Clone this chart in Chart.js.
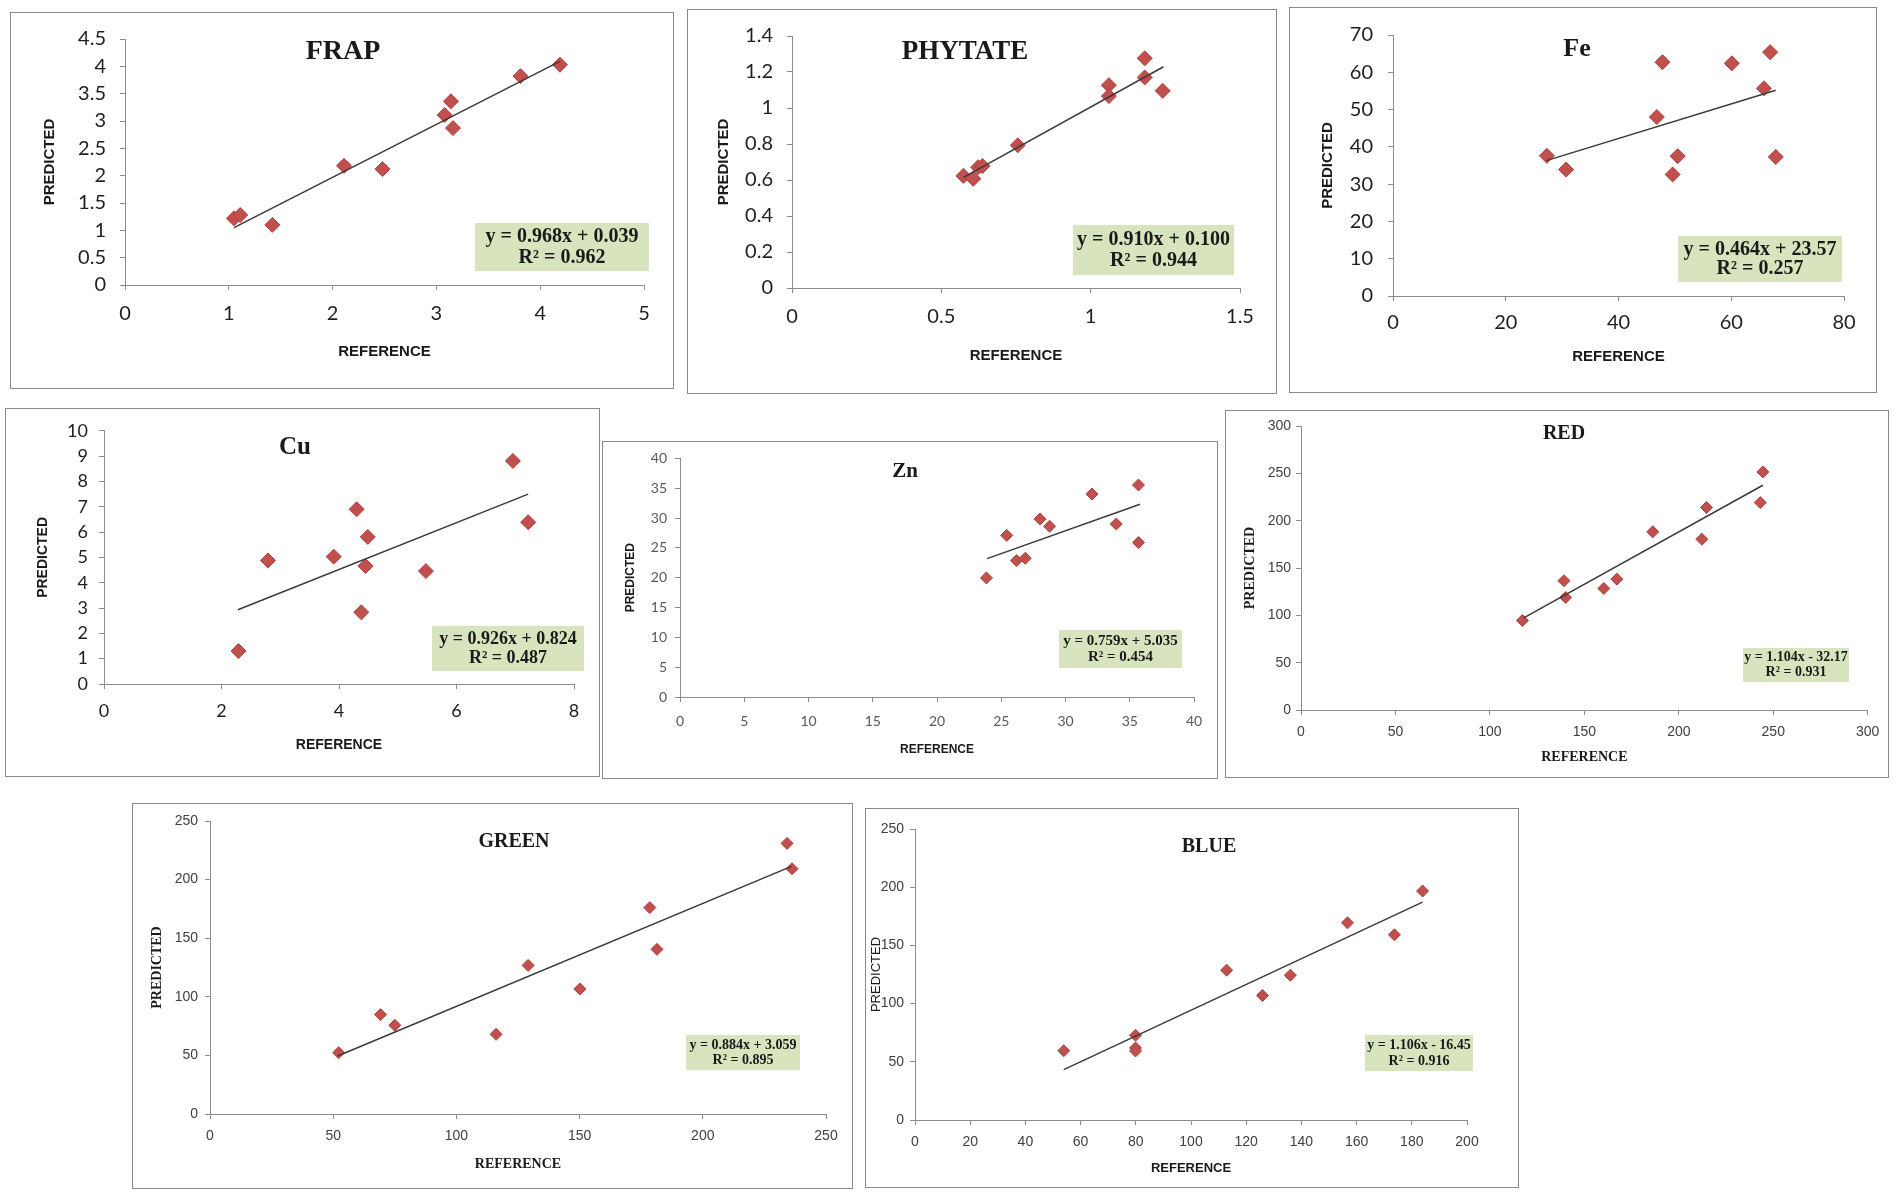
<!DOCTYPE html>
<html>
<head>
<meta charset="utf-8">
<script src="https://cdn.jsdelivr.net/npm/chart.js@4.4.1/dist/chart.umd.min.js"></script>
<style>
html, body { margin: 0; padding: 0; background: #fff; }
body { width: 1902px; height: 1199px; position: relative; overflow: hidden; }
canvas { position: absolute; outline: 1px solid #8a8a8a; }
</style>
</head>
<body>
<script>
// valeurs : REFERENCE (x) et PREDICTED (y)
const frapRef = [1.05, 1.11, 1.42, 2.11, 2.48, 3.08, 3.14, 3.16, 3.81, 4.19];
const frapPred = [1.22, 1.28, 1.10, 2.18, 2.12, 3.11, 3.36, 2.87, 3.82, 4.03];
const frapTrendRef = [1.05, 4.19];
const frapTrendPred = [1.05, 4.09];
const frapEq = ['y = 0.968x + 0.039', 'R² = 0.962'];

const phytateRef = [0.574, 0.607, 0.623, 0.638, 0.756, 1.061, 1.061, 1.181, 1.181, 1.241];
const phytatePred = [0.623, 0.607, 0.671, 0.678, 0.793, 1.127, 1.066, 1.276, 1.170, 1.096];
const phytateTrendRef = [0.574, 1.244];
const phytateTrendPred = [0.615, 1.229];
const phytateEq = ['y = 0.910x + 0.100', 'R² = 0.944'];

const feRef = [27.3, 30.7, 46.8, 47.8, 49.6, 50.5, 60.1, 65.8, 66.9, 67.9];
const fePred = [37.6, 33.9, 48.0, 62.7, 32.6, 37.5, 62.4, 55.7, 65.4, 37.3];
const feTrendRef = [27.2, 67.9];
const feTrendPred = [36.3, 55.2];
const feEq = ['y = 0.464x + 23.57', 'R² = 0.257'];

const cuRef = [2.29, 2.79, 3.91, 4.30, 4.49, 4.45, 4.38, 5.48, 6.96, 7.22];
const cuPred = [1.30, 4.88, 5.03, 6.90, 5.81, 4.66, 2.83, 4.46, 8.81, 6.39];
const cuTrendRef = [2.28, 7.22];
const cuTrendPred = [2.93, 7.50];
const cuEq = ['y = 0.926x + 0.824', 'R² = 0.487'];

const znRef = [23.85, 25.42, 26.19, 26.87, 28.02, 28.76, 32.06, 33.95, 35.68, 35.68];
const znPred = [19.97, 27.11, 22.87, 23.26, 29.85, 28.62, 34.03, 29.01, 35.54, 25.89];
const znTrendRef = [23.9, 35.8];
const znTrendPred = [23.2, 32.3];
const znEq = ['y = 0.759x + 5.035', 'R² = 0.454'];

const redRef = [117.2, 139.2, 140.1, 160.3, 167.2, 186.2, 212.2, 214.7, 243.1, 244.5];
const redPred = [94.6, 136.5, 118.9, 128.4, 138.2, 188.2, 180.4, 213.9, 219.1, 251.5];
const redTrendRef = [117.9, 244.5];
const redTrendPred = [97.4, 237.4];
const redEq = ['y = 1.104x - 32.17', 'R² = 0.931'];

const greenRef = [52.2, 69.2, 75.0, 116.1, 129.1, 150.1, 178.5, 181.4, 234.2, 236.2];
const greenPred = [52.3, 84.8, 75.7, 68.0, 126.8, 106.7, 176.1, 140.5, 230.9, 209.3];
const greenTrendRef = [51.8, 236.0];
const greenTrendPred = [49.5, 211.3];
const greenEq = ['y = 0.884x + 3.059', 'R² = 0.895'];

const blueRef = [53.9, 79.9, 79.9, 79.9, 112.9, 125.9, 136.0, 156.7, 173.7, 183.9];
const bluePred = [59.6, 72.8, 61.9, 59.3, 128.7, 106.9, 124.4, 169.4, 159.1, 196.7];
const blueTrendRef = [53.9, 183.9];
const blueTrendPred = [43.3, 187.2];
const blueEq = ['y = 1.106x - 16.45', 'R² = 0.916'];

// mise en page de chaque panneau (coordonnées de la page)
const SERIF = '"Liberation Serif", "Times New Roman", serif';
const SANS = '"Liberation Sans", Arial, sans-serif';
const NARROW = '"Liberation Sans Narrow", "Liberation Sans", sans-serif';
const LATO = 'Lato, "Liberation Sans", sans-serif';

const panneaux = [
    { titre: 'FRAP', ref: frapRef, pred: frapPred, tRef: frapTrendRef, tPred: frapTrendPred, eq: frapEq,
      cadre: [11, 13, 673, 388], zone: [125, 33, 644, 285], x: [0, 5, 1], y: [0, 4.5, 0.5],
      titrePos: [343, 52, 28], eqBox: [475, 223, 649, 271, 20], tick: [LATO, 20, '#1f1f1f', 14, 314],
      axe: [SANS, 15, 'bold', SANS, 15, 'bold'], yTitreX: 50, xTitreY: 352, r: 7.5 },
    { titre: 'PHYTATE', ref: phytateRef, pred: phytatePred, tRef: phytateTrendRef, tPred: phytateTrendPred, eq: phytateEq,
      cadre: [688, 10, 1276, 393], zone: [792, 30, 1240, 288], x: [0, 1.5, 0.5], y: [0, 1.4, 0.2],
      titrePos: [965, 52, 27], eqBox: [1073, 225, 1234, 275, 20], tick: [LATO, 20, '#1f1f1f', 14, 317],
      axe: [SANS, 15, 'bold', SANS, 15, 'bold'], yTitreX: 724, xTitreY: 356, r: 7.5 },
    { titre: 'Fe', ref: feRef, pred: fePred, tRef: feTrendRef, tPred: feTrendPred, eq: feEq,
      cadre: [1290, 8, 1876, 392], zone: [1393, 26, 1844, 296], x: [0, 80, 20], y: [0, 70, 10],
      titrePos: [1577, 49, 26], eqBox: [1678, 236, 1842, 282, 20], tick: [LATO, 20, '#1f1f1f', 15, 323],
      axe: [SANS, 15, 'bold', SANS, 15, 'bold'], yTitreX: 1328, xTitreY: 357, r: 7.5 },
    { titre: 'Cu', ref: cuRef, pred: cuPred, tRef: cuTrendRef, tPred: cuTrendPred, eq: cuEq,
      cadre: [6, 409, 599, 776], zone: [104, 427, 574, 684], x: [0, 8, 2], y: [0, 10, 1],
      titrePos: [295, 448, 25], eqBox: [432, 626, 584, 671, 18], tick: [LATO, 18, '#1f1f1f', 11, 711],
      axe: [SANS, 14, 'bold', SANS, 14, 'bold'], yTitreX: 43, xTitreY: 745, r: 7.5 },
    { titre: 'Zn', ref: znRef, pred: znPred, tRef: znTrendRef, tPred: znTrendPred, eq: znEq,
      cadre: [603, 442, 1217, 778], zone: [680, 458, 1194, 697], x: [0, 40, 5], y: [0, 40, 5],
      titrePos: [905, 472, 21], eqBox: [1059, 630, 1182, 668, 15], tick: [LATO, 14, '#595959', 8, 721],
      axe: [SANS, 12, 'bold', SANS, 12, 'bold'], yTitreX: 631, xTitreY: 750, r: 6 },
    { titre: 'RED', ref: redRef, pred: redPred, tRef: redTrendRef, tPred: redTrendPred, eq: redEq,
      cadre: [1226, 411, 1888, 777], zone: [1301, 426, 1871, 710], x: [0, 300, 50], y: [0, 300, 50],
      titrePos: [1564, 434, 20], eqBox: [1743, 648, 1849, 682, 14], tick: [NARROW, 14, '#404040', 5, 732],
      axe: [SERIF, 14, 'bold', SERIF, 14, 'bold'], yTitreX: 1250, xTitreY: 757, r: 6 },
    { titre: 'GREEN', ref: greenRef, pred: greenPred, tRef: greenTrendRef, tPred: greenTrendPred, eq: greenEq,
      cadre: [133, 804, 852, 1188], zone: [210, 821, 826, 1114], x: [0, 250, 50], y: [0, 250, 50],
      titrePos: [514, 842, 20], eqBox: [686, 1035, 800, 1070, 14], tick: [NARROW, 14, '#404040', 7, 1136],
      axe: [SERIF, 14, 'bold', SERIF, 14, 'bold'], yTitreX: 157, xTitreY: 1164, r: 6 },
    { titre: 'BLUE', ref: blueRef, pred: bluePred, tRef: blueTrendRef, tPred: blueTrendPred, eq: blueEq,
      cadre: [866, 809, 1518, 1187], zone: [915, 829, 1467, 1120], x: [0, 200, 20], y: [0, 250, 50],
      titrePos: [1209, 847, 20], eqBox: [1365, 1035, 1473, 1071, 14], tick: [NARROW, 14, '#404040', 6, 1142],
      axe: [NARROW, 13, 'bold', NARROW, 13, 'normal'], yTitreX: 876, xTitreY: 1168, r: 6 }
];

// format des graduations comme dans Excel : 1 et non 1.0
function formatTick(v) {
    return String(Math.round(v * 1000) / 1000);
}

// plugin qui dessine le titre et la boite de l'equation
const decorPlugin = {
    id: 'decor',
    afterDatasetsDraw(chart, args, o) {
        const ctx = chart.ctx;
        ctx.save();
        const b = o.eqBox;
        ctx.fillStyle = '#d7e4bd';
        ctx.fillRect(b[0], b[1], b[2] - b[0], b[3] - b[1]);
        ctx.fillStyle = '#1a1a1a';
        ctx.textAlign = 'center';
        ctx.textBaseline = 'middle';
        ctx.font = 'bold ' + b[4] + 'px ' + SERIF;
        const cx = (b[0] + b[2]) / 2;
        const h = b[3] - b[1];
        ctx.fillText(o.eq[0], cx, b[1] + h * 0.29);
        ctx.fillText(o.eq[1], cx, b[1] + h * 0.72);
        ctx.font = 'bold ' + o.titre[2] + 'px ' + SERIF;
        ctx.fillText(o.titre[3], o.titre[0], o.titre[1]);
        ctx.restore();
    }
};

panneaux.forEach((p, i) => {
    const L = p.cadre[0], T = p.cadre[1];
    const W = p.cadre[2] - L, H = p.cadre[3] - T;
    const canvas = document.createElement('canvas');
    canvas.width = W;
    canvas.height = H;
    canvas.style.left = L + 'px';
    canvas.style.top = T + 'px';
    canvas.style.width = W + 'px';
    canvas.style.height = H + 'px';
    document.body.appendChild(canvas);

    const yLarg = p.zone[0] - L;
    const xHaut = p.cadre[3] - p.zone[3];
    const tf = p.tick;
    const xPad = tf[4] - p.zone[3] - 5 - 0.6 * tf[1];
    const yTitrePad = p.yTitreX - L - 0.6 * p.axe[4];
    const xTitrePad = p.cadre[3] - p.xTitreY - 0.6 * p.axe[1];

    const points = p.ref.map((v, k) => ({ x: v, y: p.pred[k] }));
    const tendance = p.tRef.map((v, k) => ({ x: v, y: p.tPred[k] }));

    new Chart(canvas.getContext('2d'), {
        type: 'scatter',
        data: {
            datasets: [
                { data: tendance, showLine: true, borderColor: '#3a3a3a', borderWidth: 1.5, pointRadius: 0, order: 0 },
                { data: points, pointStyle: 'rectRot', pointRadius: p.r, backgroundColor: '#c0504d',
                  borderColor: '#b2403c', borderWidth: 1, order: 1 }
            ]
        },
        options: {
            responsive: false,
            animation: false,
            layout: { padding: { left: 0, bottom: 0, top: p.zone[1] - T, right: p.cadre[2] - p.zone[2] } },
            plugins: {
                legend: { display: false },
                tooltip: { enabled: false },
                decor: {
                    eqBox: [p.eqBox[0] - L, p.eqBox[1] - T, p.eqBox[2] - L, p.eqBox[3] - T, p.eqBox[4]],
                    eq: p.eq,
                    titre: [p.titrePos[0] - L, p.titrePos[1] - T, p.titrePos[2], p.titre]
                }
            },
            scales: {
                x: {
                    type: 'linear', min: p.x[0], max: p.x[1],
                    ticks: { stepSize: p.x[2], font: { family: tf[0], size: tf[1] }, color: tf[2], padding: xPad,
                             callback: formatTick },
                    grid: { drawOnChartArea: false, drawTicks: true, tickLength: 5, color: '#8c8c8c' },
                    border: { display: true, color: '#8c8c8c' },
                    title: { display: true, text: 'REFERENCE', color: '#1a1a1a',
                             font: { family: p.axe[0], size: p.axe[1], weight: p.axe[2] },
                             padding: { top: 0, bottom: xTitrePad } },
                    afterFit: s => { s.height = xHaut; }
                },
                y: {
                    type: 'linear', min: p.y[0], max: p.y[1],
                    ticks: { stepSize: p.y[2], font: { family: tf[0], size: tf[1] }, color: tf[2], padding: tf[3],
                             callback: formatTick },
                    grid: { drawOnChartArea: false, drawTicks: true, tickLength: 5, color: '#8c8c8c' },
                    border: { display: true, color: '#8c8c8c' },
                    title: { display: true, text: 'PREDICTED', color: '#1a1a1a',
                             font: { family: p.axe[3], size: p.axe[4], weight: p.axe[5] },
                             padding: { top: yTitrePad, bottom: 0 } },
                    afterFit: s => { s.width = yLarg; }
                }
            }
        },
        plugins: [decorPlugin]
    });
});
</script>
</body>
</html>
